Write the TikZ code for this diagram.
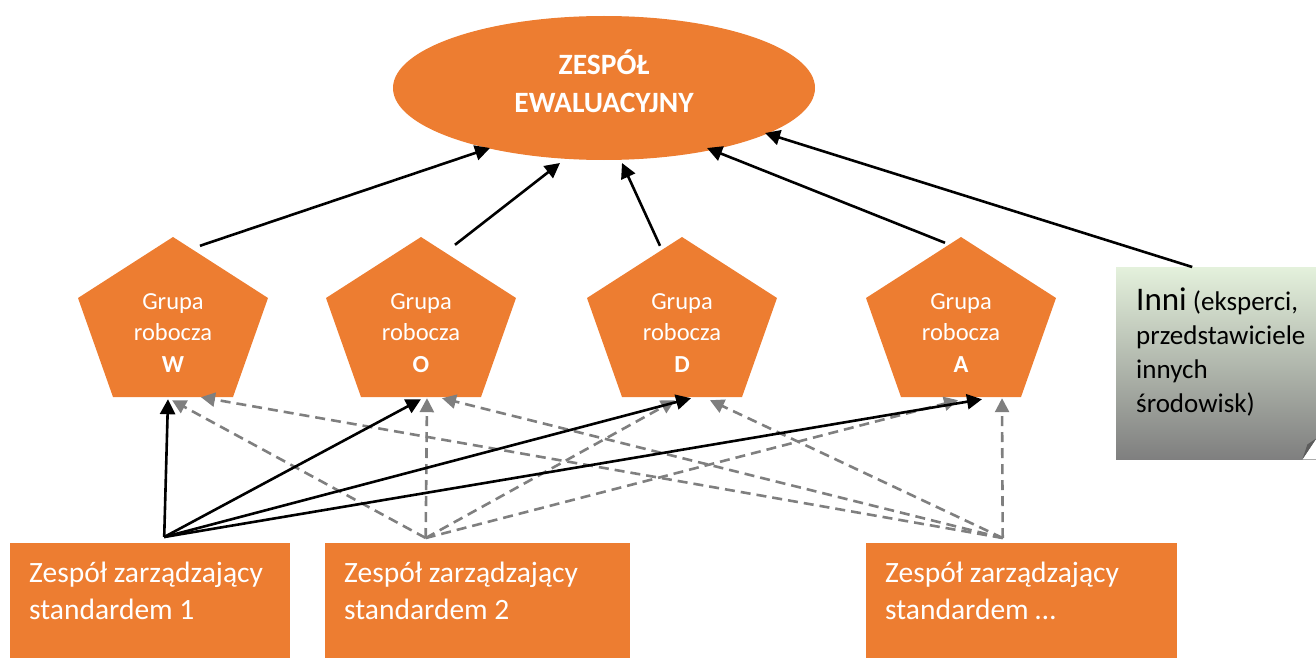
\documentclass[tikz,border=0pt]{standalone}
\usepackage{fontspec}
\newfontfamily\calfont{Carlito}
\usetikzlibrary{arrows.meta,calc,shapes.geometric}
\definecolor{orng}{HTML}{ED7D31}
\definecolor{dashgrey}{HTML}{7F7F7F}
\definecolor{notetop}{HTML}{E4F1DC}
\definecolor{notebot}{HTML}{7F7F7F}
\definecolor{foldgrey}{HTML}{5C5C5C}
\begin{document}
\begin{tikzpicture}[x=1pt,y=-1pt,
  group/.style={minimum width=190pt, minimum height=160pt, inner sep=0pt,
    path picture={\fill[orng] (path picture bounding box.north)
      -- ([yshift=19pt]path picture bounding box.east)
      -- ([xshift=-35pt]path picture bounding box.south east)
      -- ([xshift=35pt]path picture bounding box.south west)
      -- ([yshift=19pt]path picture bounding box.west) -- cycle;}},
  grouptext/.style={font=\calfont\fontsize{24.5}{31.5}\selectfont, text=white,
    align=center, inner sep=0pt, anchor=base},
  stdbox/.style={fill=orng, inner sep=0pt, anchor=north west, minimum height=118pt},
  stdtext/.style={font=\calfont\fontsize{29.5}{37}\selectfont, text=white,
    align=left, inner sep=0pt, anchor=base west},
  solidarrow/.style={draw=black, line width=2.6pt, -{Triangle[length=15pt,width=15pt]}},
  dasharrow/.style={draw=dashgrey, line width=2.6pt, dash pattern=on 10pt off 6pt,
    -{Triangle[length=14pt,width=14pt]}}]
\useasboundingbox (0,0) rectangle (1316,658);

% evaluation team
\node[ellipse, fill=orng, minimum width=422pt, minimum height=144pt, inner sep=0pt] (E) at (604,88) {};
\node[font=\calfont\bfseries\fontsize{29.5}{37.5}\selectfont, text=white, align=center,
  inner sep=0pt, anchor=base] (Et) at (604,112.5) {ZESPÓŁ\\EWALUACYJNY};

% working groups (text anchored at the baseline of the last line)
\node[group] (W) at (173,317) {};
\node[group] (O) at (421,317) {};
\node[group] (D) at (682,317) {};
\node[group] (A) at (961,317) {};
\node[grouptext] (Wt) at (173,372) {Grupa\\robocza\\\textbf{W}};
\node[grouptext] (Ot) at (421,372) {Grupa\\robocza\\\textbf{O}};
\node[grouptext] (Dt) at (682,372) {Grupa\\robocza\\\textbf{D}};
\node[grouptext] (At) at (961,372) {Grupa\\robocza\\\textbf{A}};

% others: note with folded corner
\node[rectangle, inner sep=0pt, anchor=north west, minimum width=200pt, minimum height=192pt,
  top color=notetop, bottom color=notebot] (I) at (1116,267) {};
\fill[white] ($(I.south east)+(-14,0)$) -- (I.south east) -- ($(I.south east)+(0,-21)$) -- cycle;
\fill[foldgrey] ($(I.south east)+(-14,0)$) -- ($(I.south east)+(0,-21)$) -- ($(I.south east)+(-9,-15)$) -- cycle;
\node[font=\calfont\fontsize{27}{33.7}\selectfont, text=black, align=left, inner sep=0pt,
  anchor=base west] (It) at (1136,412)
  {{\fontsize{33}{33.7}\selectfont Inni} (eksperci,\\przedstawiciele\\innych\\środowisk)};

% standard management teams
\node[stdbox, minimum width=280pt] (S1) at (10,543) {};
\node[stdbox, minimum width=305pt] (S2) at (325,543) {};
\node[stdbox, minimum width=311pt] (S3) at (866,543) {};
\node[stdtext] (S1t) at (29,619) {Zespół zarządzający\\standardem 1};
\node[stdtext] (S2t) at (344,619) {Zespół zarządzający\\standardem 2};
\node[stdtext] (S3t) at (885,619) {Zespół zarządzający\\standardem …};

\coordinate (p1) at ($(S1.north)+(14,-6)$);
\coordinate (p2) at ($(S2.north)+(-52,-5)$);
\coordinate (p3) at ($(S3.north)+(-19,-5)$);

% reporting lines to the evaluation team
\draw[solidarrow] ($(W.north)+(27,9)$) -- ($(E.center)+(-114,60)$);
\draw[solidarrow] ($(O.north)+(34,8)$) -- ($(E.center)+(-44,75)$);
\draw[solidarrow] ($(D.north)+(-22,9)$) -- ($(E.center)+(18,75)$);
\draw[solidarrow] ($(A.north)+(-16,6)$) -- ($(E.center)+(103,60)$);
\draw[solidarrow] ($(I.north)+(-24,0)$) -- ($(E.center)+(161,45)$);

% links from the second and further standard teams
\draw[dasharrow] (p2) -- ($(W.south)+(-1,3)$);
\draw[dasharrow] (p2) -- ($(O.south)+(6,1)$);
\draw[dasharrow] (p2) -- ($(D.south)+(-7,3)$);
\draw[dasharrow] (p2) -- ($(A.south)+(-3,3)$);
\draw[dasharrow] (p3) -- ($(W.south)+(28,0)$);
\draw[dasharrow] (p3) -- ($(O.south)+(21,1)$);
\draw[dasharrow] (p3) -- ($(D.south)+(28,3)$);
\draw[dasharrow] (p3) -- ($(A.south)+(41,1)$);

% links from the first standard team
\draw[solidarrow] (p1) -- ($(W.south)+(-5,2)$);
\draw[solidarrow] (p1) -- ($(O.south)+(0,2)$);
\draw[solidarrow] (p1) -- ($(D.south)+(9,1)$);
\draw[solidarrow] (p1) -- ($(A.south)+(21,2)$);
\end{tikzpicture}
\end{document}
